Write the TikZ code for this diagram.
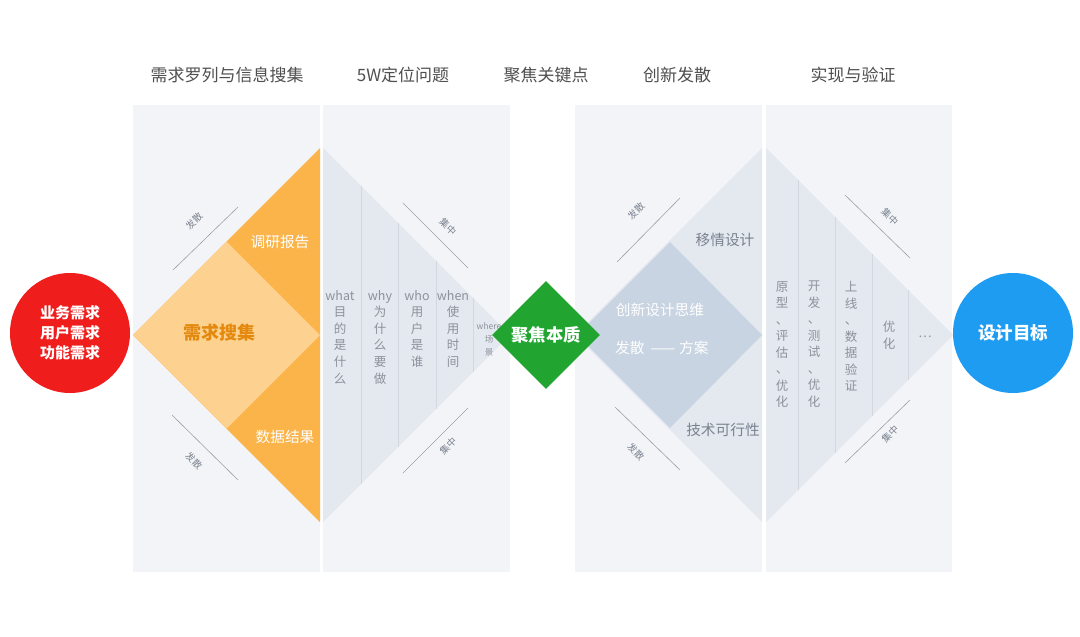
\documentclass[tikz,border=0pt]{standalone}
\usepackage{fontspec}
\setmainfont{Noto Sans CJK SC}
\usetikzlibrary{shapes.geometric}

\definecolor{PanelGray}{HTML}{F3F4F7}
\definecolor{FunnelGray}{HTML}{E4E8EF}
\definecolor{FunnelLine}{HTML}{D3D8E0}
\definecolor{DiamondBlue}{HTML}{C8D4E2}
\definecolor{OrangeDark}{HTML}{FAB449}
\definecolor{OrangeLight}{HTML}{FDD291}
\definecolor{OrangeText}{HTML}{E3890E}
\definecolor{NeedRed}{HTML}{F01D1D}
\definecolor{GoalBlue}{HTML}{1E9CF1}
\definecolor{FocusGreen}{HTML}{21A530}
\definecolor{HeadGray}{HTML}{4F4F4F}
\definecolor{ColText}{HTML}{8C929B}
\definecolor{StepText}{HTML}{7A8290}
\definecolor{HintGray}{HTML}{9AA0A8}

\begin{document}
\begin{tikzpicture}[x=1pt, y=-1pt,
    head/.style={font=\fontsize{17}{20}\selectfont, text=HeadGray},
    colText/.style={font=\fontsize{12.5}{16.6}\selectfont, text=ColText, align=center, anchor=north, inner sep=0pt},
    stageText/.style={font=\fontsize{14.7}{18}\selectfont, inner sep=0pt},
    hint/.style={font=\fontsize{9.5}{10}\selectfont, text=StepText, inner sep=0pt},
    hintLine/.style={draw=HintGray, line width=0.6pt},
    sepLine/.style={draw=FunnelLine, line width=0.8pt},
    ball/.style={circle, minimum size=120pt, inner sep=0pt, text=white, align=center}
]

    \def\midy{335}
    \def\funTop{148}
    \def\funBot{522}

    \fill[white] (0,0) rectangle (1080,637);
    \useasboundingbox (0,0) rectangle (1080,637);

    \node[head] (headCollect) at (227,75) {需求罗列与信息搜集};
    \node[head] (headFive) at (403,75) {5W定位问题};
    \node[head] (headFocus) at (546,75) {聚焦关键点};
    \node[head] (headDiverge) at (677,75) {创新发散};
    \node[head] (headVerify) at (853,75) {实现与验证};

    \foreach \xa/\xb in {133/320, 323/510, 575/762, 766/952}
        \fill[PanelGray] (\xa,105) rectangle (\xb,572);

    \fill[OrangeDark] (133,\midy) -- (320,\funTop) -- (320,\funBot) -- cycle;
    \fill[OrangeLight] (133,\midy) -- (226.5,241.5) -- (320,\midy) -- (226.5,428.5) -- cycle;

    \fill[FunnelGray] (323,\funTop) -- (510,\midy) -- (323,\funBot) -- cycle;
    \foreach \x in {361,398,436,473}
        \draw[sepLine] (\x,\funTop+\x-323) -- (\x,\funBot-\x+323);

    \fill[FunnelGray] (762,\funTop) -- (575,\midy) -- (762,\funBot) -- cycle;
    \fill[DiamondBlue] (577,\midy) -- (670,242) -- (762,\midy) -- (670,428) -- cycle;

    \fill[FunnelGray] (766,\funTop) -- (953,\midy) -- (766,\funBot) -- cycle;
    \foreach \x in {798,835,872,908}
        \draw[sepLine] (\x,\funTop+\x-766) -- (\x,\funBot-\x+766);

    \node[stageText, text=white] (research) at (280,242) {调研报告};
    \node[font=\bfseries\fontsize{18}{20}\selectfont, text=OrangeText] (collect) at (219,333) {需求搜集};
    \node[stageText, text=white] (dataResult) at (285,437) {数据结果};

    \node[colText] (what) at (340,290) {what\\目\\的\\是\\什\\么};
    \node[colText] (why) at (380,290) {why\\为\\什\\么\\要\\做};
    \node[colText] (who) at (417,290) {who\\用\\户\\是\\谁};
    \node[colText] (when) at (453,290) {when\\使\\用\\时\\间};
    \node[colText, font=\fontsize{8.5}{13}\selectfont] (where) at (489,323) {where\\场\\景};

    \node[stageText, text=StepText] (empathy) at (725,240) {移情设计};
    \node[stageText, text=StepText] (feasible) at (723,430) {技术可行性};
    \node[stageText, text=white] (innovate) at (660,310) {创新设计思维};
    \node[stageText, text=white, anchor=west] (divergePlan) at (615,348) {发散\hspace{6pt}——\hspace{4pt}方案};

    \node[colText, font=\fontsize{12.5}{16.5}\selectfont] (proto) at (782,281) {原\\型\\、\\评\\估\\、\\优\\化};
    \node[colText, font=\fontsize{12.5}{16.5}\selectfont] (develop) at (814,281) {开\\发\\、\\测\\试\\、\\优\\化};
    \node[colText, font=\fontsize{12.5}{16.5}\selectfont] (launch) at (851,281) {上\\线\\、\\数\\据\\验\\证};
    \node[colText, font=\fontsize{12.5}{16.5}\selectfont] (optimize) at (889,321) {优\\化};
    \node[colText, anchor=center] (more) at (925,337) {…};

    \coordinate (divA1) at (173,270);
    \coordinate (divA2) at (238,207);
    \coordinate (divB1) at (172,415);
    \coordinate (divB2) at (238,480);
    \draw[hintLine] (divA1) -- (divA2);
    \draw[hintLine] (divB1) -- (divB2);
    \node[hint, rotate=45] (divAText) at (194,221) {发散};
    \node[hint, rotate=-45] (divBText) at (194,461) {发散};

    \coordinate (conA1) at (403,203);
    \coordinate (conA2) at (468,268);
    \coordinate (conB1) at (403,473);
    \coordinate (conB2) at (468,408);
    \draw[hintLine] (conA1) -- (conA2);
    \draw[hintLine] (conB1) -- (conB2);
    \node[hint, rotate=-45] (conAText) at (448,227) {集中};
    \node[hint, rotate=45] (conBText) at (448,446) {集中};

    \coordinate (divC1) at (617,262);
    \coordinate (divC2) at (680,198);
    \coordinate (divD1) at (615,407);
    \coordinate (divD2) at (680,470);
    \draw[hintLine] (divC1) -- (divC2);
    \draw[hintLine] (divD1) -- (divD2);
    \node[hint, rotate=45] (divCText) at (636,211) {发散};
    \node[hint, rotate=-45] (divDText) at (636,452) {发散};

    \coordinate (conC1) at (845,195);
    \coordinate (conC2) at (910,258);
    \coordinate (conD1) at (845,463);
    \coordinate (conD2) at (910,400);
    \draw[hintLine] (conC1) -- (conC2);
    \draw[hintLine] (conD1) -- (conD2);
    \node[hint, rotate=-45] (conCText) at (890,217) {集中};
    \node[hint, rotate=45] (conDText) at (890,434) {集中};

    \node[ball, fill=NeedRed, font=\bfseries\fontsize{15}{20}\selectfont] (needs) at (70,333) {业务需求\\用户需求\\功能需求};
    \node[ball, fill=GoalBlue, font=\bfseries\fontsize{17.5}{20}\selectfont] (goal) at (1013,333) {设计目标};
    \node[diamond, fill=FocusGreen, minimum width=108pt, minimum height=108pt, inner sep=0pt, text=white, font=\bfseries\fontsize{17.3}{20}\selectfont] (focus) at (546,335) {聚焦本质};

\end{tikzpicture}
\end{document}
